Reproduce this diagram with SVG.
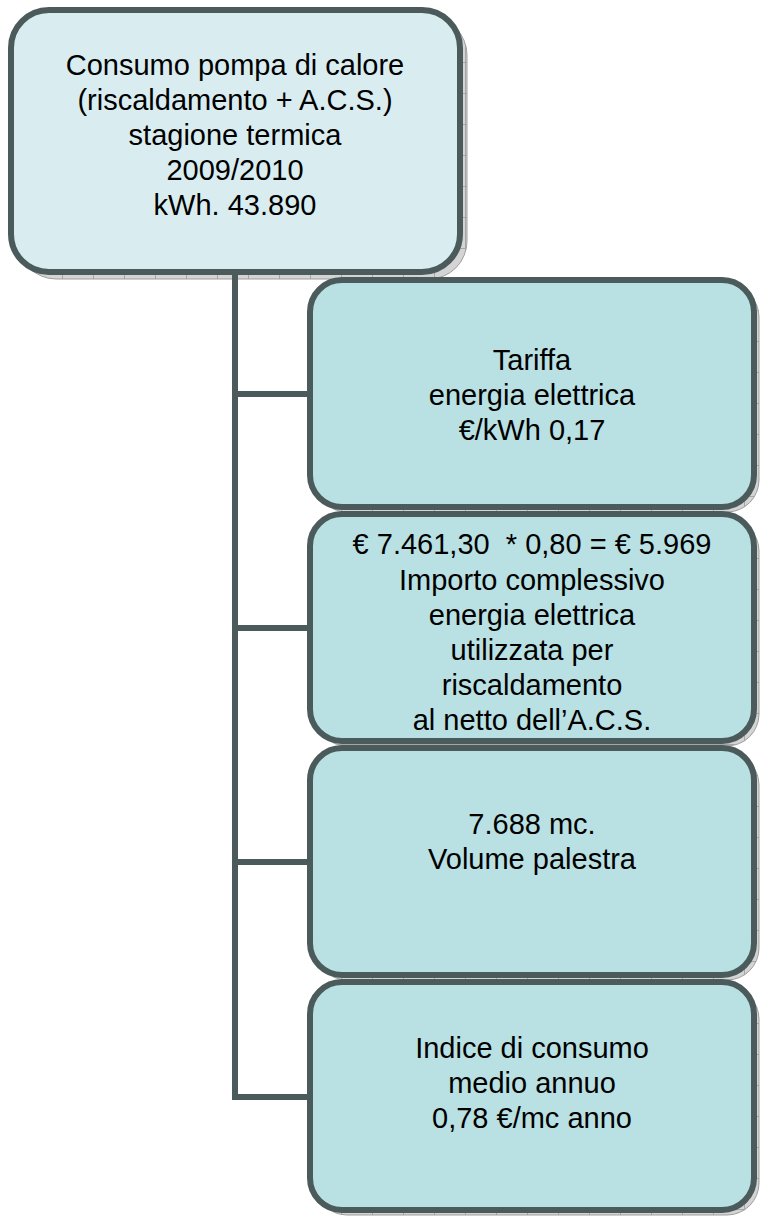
<svg xmlns="http://www.w3.org/2000/svg" width="762" height="1218" viewBox="0 0 762 1218">
<defs>
<pattern id="grid" width="31" height="31" patternUnits="userSpaceOnUse">
<rect width="31" height="31" fill="#d4d4d4"/>
<path d="M0 0.5H31M0.5 0V31" stroke="#a6a6a6" stroke-width="1"/>
</pattern>
</defs>
<style>
.sh{fill:url(#grid);stroke:#9e9e9e;stroke-width:1}
.top{fill:#d9edf0;stroke:#4b5a5a;stroke-width:6}
.box{fill:#b9e0e3;stroke:#4b5a5a;stroke-width:6}
.ln{stroke:#4b5a5a;stroke-width:6;fill:none}
text{font-family:"Liberation Sans",Arial,sans-serif;font-size:29px;fill:#000;text-anchor:middle}
</style>
<g id="shadows">
<rect class="sh" x="18" y="17" width="449" height="262" rx="38"/>
<rect class="sh" x="315" y="285" width="444" height="227" rx="32"/>
<rect class="sh" x="315" y="519" width="444" height="227" rx="32"/>
<rect class="sh" x="315" y="753" width="444" height="227" rx="32"/>
<rect class="sh" x="315" y="987" width="444" height="228" rx="32"/>
</g>
<g id="connectors">
<line class="ln" x1="235" y1="272" x2="235" y2="1100"/>
<line class="ln" x1="232" y1="394" x2="310" y2="394"/>
<line class="ln" x1="232" y1="628" x2="310" y2="628"/>
<line class="ln" x1="232" y1="862" x2="310" y2="862"/>
<line class="ln" x1="232" y1="1097" x2="310" y2="1097"/>
</g>
<g id="node-root">
<rect class="top" x="11" y="10" width="449" height="262" rx="38"/>
<text x="235" y="75">Consumo pompa di calore</text>
<text x="235" y="110">(riscaldamento + A.C.S.)</text>
<text x="235" y="145">stagione termica</text>
<text x="235" y="180">2009/2010</text>
<text x="235" y="215"> kWh. 43.890</text>
</g>
<g id="node-tariffa">
<rect class="box" x="310" y="280" width="444" height="227" rx="32"/>
<text x="532" y="370">Tariffa</text>
<text x="532" y="405">energia elettrica</text>
<text x="532" y="440">€/kWh 0,17</text>
</g>
<g id="node-importo">
<rect class="box" x="310" y="514" width="444" height="227" rx="32"/>
<text x="532" y="554" xml:space="preserve">€ 7.461,30  * 0,80 = € 5.969</text>
<text x="532" y="590">Importo complessivo</text>
<text x="532" y="625">energia elettrica</text>
<text x="532" y="660">utilizzata per</text>
<text x="532" y="695">riscaldamento</text>
<text x="532" y="730">al netto dell’A.C.S.</text>
</g>
<g id="node-volume">
<rect class="box" x="310" y="748" width="444" height="227" rx="32"/>
<text x="532" y="834">7.688 mc.</text>
<text x="532" y="869">Volume palestra</text>
</g>
<g id="node-indice">
<rect class="box" x="310" y="982" width="444" height="228" rx="32"/>
<text x="532" y="1058">Indice di consumo</text>
<text x="532" y="1093">medio annuo</text>
<text x="532" y="1128">0,78 €/mc anno</text>
</g>
</svg>
